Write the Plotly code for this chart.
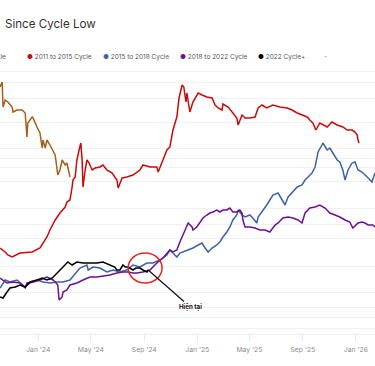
import plotly.graph_objects as go
import pandas as pd

BASE = pd.Timestamp("2023-10-05")
END_DAY = 863

# ---- series data (day offset from BASE, index value) ----
brown_days = [0, 5, 7, 12, 18, 28, 30, 39, 51, 58, 62, 64, 74, 76, 85, 92, 97, 99, 104, 108,
              115, 122, 127, 133, 138, 143, 150, 154, 161]
brown_vals = [247, 252, 227, 234, 232, 227, 222, 224, 224, 221, 197, 211, 217, 216, 207, 201, 186, 194, 186, 194,
              189, 184, 179, 159, 164, 174, 169, 171, 157]

red_days = [0, 12, 18, 28, 46, 62, 74, 92, 99, 108, 115, 127, 138, 150, 154, 161, 166, 168, 173, 177,
            182, 186, 189, 191, 196, 200, 205, 212, 219, 230, 237, 246, 258, 269, 272, 281, 292, 306, 322, 329,
            345, 361, 364, 368, 375, 384, 391, 398, 407, 412, 419, 423, 428, 430, 437, 444, 456, 465, 476, 488,
            495, 502, 511, 513, 525, 536, 545, 548, 557, 564, 575, 587, 594, 603, 614, 628, 644, 661, 672, 684,
            695, 707, 713, 720, 727, 736, 753, 764, 776, 789, 799, 810, 817, 822, 824, 826]
red_vals = [86, 82, 79, 77, 81, 82, 82, 86, 91, 97, 104, 114, 121, 127, 132, 134, 147, 154, 157, 174,
            184, 191, 174, 147, 164, 174, 171, 164, 166, 167, 169, 164, 161, 154, 146, 156, 157, 159, 164, 169,
            167, 167, 162, 167, 174, 184, 187, 204, 217, 236, 249, 247, 232, 241, 222, 232, 241, 239, 237, 236,
            229, 226, 224, 230, 227, 221, 216, 209, 219, 216, 216, 217, 226, 229, 226, 229, 227, 226, 224, 221,
            219, 217, 214, 211, 204, 211, 207, 212, 209, 207, 204, 204, 202, 199, 194, 191]

blue_days = [0, 12, 23, 39, 58, 69, 85, 99, 115, 131, 145, 161, 184, 200, 203, 214, 230, 246, 260, 276,
             292, 306, 322, 338, 352, 368, 384, 391, 398, 407, 414, 421, 433, 444, 456, 465, 472, 479, 488, 499,
             506, 513, 522, 529, 536, 545, 548, 557, 564, 575, 582, 591, 594, 603, 614, 621, 628, 640, 649, 656,
             663, 674, 684, 695, 702, 709, 718, 725, 732, 741, 743, 753, 759, 766, 776, 782, 789, 794, 801, 810,
             817, 824, 833, 845, 856, 863]
blue_vals = [46, 54, 52, 54, 47, 51, 54, 52, 51, 52, 52, 54, 66, 69, 64, 67, 66, 62, 64, 62,
             64, 69, 67, 71, 71, 74, 79, 84, 81, 77, 81, 82, 84, 86, 89, 91, 86, 82, 86, 89,
             92, 97, 102, 107, 114, 119, 124, 119, 117, 119, 116, 111, 117, 122, 129, 134, 139, 141, 134, 129,
             137, 142, 147, 149, 154, 157, 161, 167, 182, 189, 191, 184, 186, 181, 174, 172, 164, 154, 164, 171,
             172, 164, 162, 157, 152, 161]

purple_days = [0, 7, 16, 30, 46, 58, 62, 76, 92, 108, 122, 127, 133, 136, 143, 145, 154, 161, 177, 191,
               207, 223, 237, 253, 269, 283, 295, 306, 315, 329, 345, 361, 375, 391, 398, 407, 414, 421, 430, 433,
               442, 444, 453, 460, 467, 476, 483, 490, 499, 506, 513, 522, 529, 536, 545, 552, 557, 559, 564, 575,
               587, 598, 610, 621, 633, 640, 651, 663, 674, 686, 695, 702, 713, 725, 736, 748, 759, 771, 782, 794,
               805, 812, 824, 833, 840, 847, 858, 863]
purple_vals = [56, 54, 51, 52, 51, 46, 51, 52, 54, 57, 54, 52, 49, 34, 37, 42, 44, 49, 51, 54,
               57, 57, 58, 59, 61, 62, 62, 61, 61, 62, 64, 71, 76, 84, 82, 84, 92, 99, 107, 111,
               107, 104, 107, 111, 116, 119, 121, 122, 124, 122, 124, 124, 126, 122, 122, 124, 121, 114, 107, 107,
               106, 104, 104, 102, 109, 111, 116, 117, 116, 114, 111, 121, 126, 127, 129, 126, 121, 119, 117, 114,
               112, 106, 111, 112, 111, 109, 109, 107]

black_days = [0, 7, 16, 23, 35, 46, 58, 69, 85, 97, 108, 120, 127, 133, 145, 156, 166, 177, 191, 207,
              223, 237, 253, 264, 269, 276, 283, 288, 295, 306, 313, 322, 329, 338, 341]
black_vals = [37, 36, 42, 46, 47, 49, 47, 52, 54, 56, 54, 56, 59, 62, 67, 72, 69, 72, 71, 71,
              71, 72, 69, 67, 64, 64, 69, 67, 67, 64, 66, 66, 64, 62, 64]

series = [
    ("2010 to 2011 Cycle", brown_days, brown_vals, "#a3611a"),
    ("2011 to 2015 Cycle", red_days, red_vals, "#cc0a0a"),
    ("2015 to 2018 Cycle", blue_days, blue_vals, "#3d62a6"),
    ("2018 to 2022 Cycle", purple_days, purple_vals, "#6c1095"),
    ("2022 Cycle+", black_days, black_vals, "#000000"),
]

grid_vals = [6, 17, 27, 42, 68, 96, 110, 126, 153, 167, 176, 186, 212, 236, 252, 263, 272]
tick_dates = ["2024-01-01", "2024-05-01", "2024-09-01", "2025-01-01", "2025-05-01", "2025-09-01", "2026-01-01"]
tick_text = ["Jan '24", "May '24", "Sep '24", "Jan '25", "May '25", "Sep '25", "Jan '26"]


def to_dates(days):
    return [BASE + pd.Timedelta(days=d) for d in days]


fig = go.Figure()
for name, d, v, c in series:
    fig.add_trace(go.Scatter(x=to_dates(d), y=v, mode="lines", name=name,
                             line=dict(color=c, width=1.5), showlegend=False))

W, H = 375, 366
ML, MR, MT, MB = 0, 0, 62, 32
plot_h = H - MT - MB

fig.update_layout(
    width=W, height=H,
    margin=dict(l=ML, r=MR, t=MT, b=MB),
    paper_bgcolor="white", plot_bgcolor="white",
    font=dict(family="Inter, sans-serif"),
    xaxis=dict(type="date", range=[BASE, BASE + pd.Timedelta(days=END_DAY)],
               tickvals=tick_dates, ticktext=tick_text, ticks="outside", ticklen=6,
               tickcolor="#e6e6e6", showgrid=False, showline=True, linecolor="#eeeeee",
               ticklabelstandoff=3,
               tickfont=dict(size=6.8, color="#8c8c8c"), zeroline=False),
    yaxis=dict(range=[0, 272], tickvals=grid_vals, showticklabels=False, showgrid=True,
               gridcolor="#f0f0f0", gridwidth=1, zeroline=False, showline=False),
)

# title (cropped in the reference)
fig.add_annotation(text="Since Cycle Low", xref="paper", yref="paper",
                   x=3 / W, y=1 + (MT - 24) / plot_h, xanchor="left", yanchor="middle",
                   showarrow=False, font=dict(size=11.6, color="#333333"))

# legend drawn as text
leg_y = 1 + (MT - 57) / plot_h
leg_x = [8, 25, 101, 178, 256]
for i, (name, d, v, c) in enumerate(series):
    txt = f'<span style="color:{c}">●</span> {name}'
    anchor = "right" if i == 0 else "left"
    fig.add_annotation(text=txt, xref="paper", yref="paper", x=leg_x[i] / W, y=leg_y,
                       xanchor=anchor, yanchor="middle", showarrow=False,
                       font=dict(size=6.5, color="#555555"))
fig.add_annotation(text="-", xref="paper", yref="paper", x=325 / W, y=leg_y,
                   xanchor="center", yanchor="middle", showarrow=False,
                   font=dict(size=6.5, color="#777777"))

# "current" marker: circle + arrow label
fig.add_shape(type="circle", xref="x", yref="y",
              x0=BASE + pd.Timedelta(days=295), x1=BASE + pd.Timedelta(days=373),
              y0=51, y1=81, line=dict(color="#e3261c", width=1.5))
fig.add_annotation(x=to_dates(black_days)[-1], y=black_vals[-1], xref="x", yref="y",
                   text="<b>Hiện tại</b>", showarrow=True, arrowhead=0, arrowwidth=1.2,
                   arrowcolor="#111111", ax=42, ay=37, font=dict(size=6.2, color="#111111"))

fig.write_html("out.html", config={"displayModeBar": False},
               post_script="document.body.style.margin='0';")
